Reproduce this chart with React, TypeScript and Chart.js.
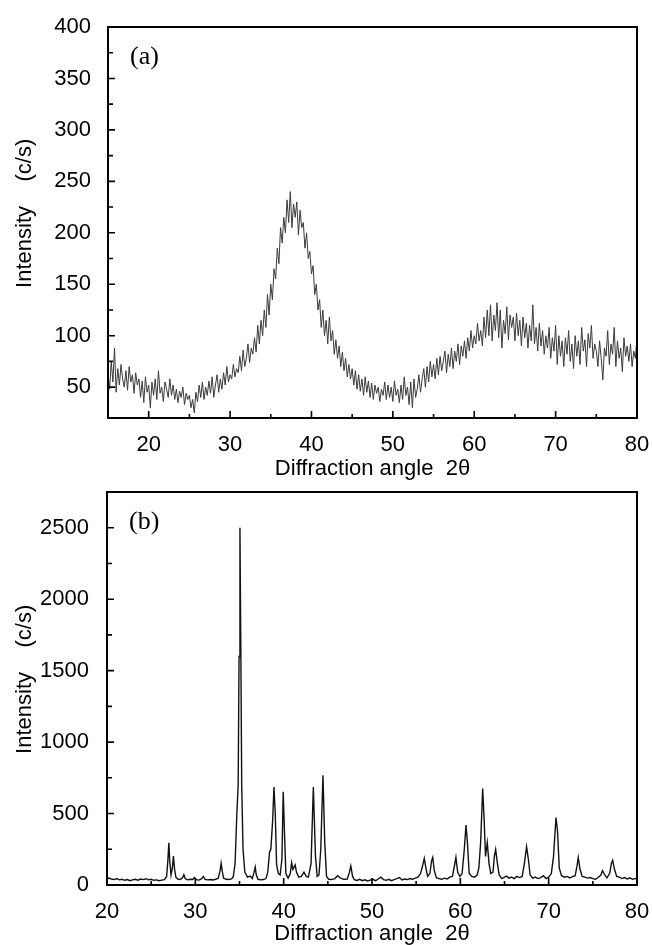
import React, { useEffect, useRef } from "react";
import { Chart, registerables } from "chart.js";

Chart.register(...registerables);

// ---------- Panel (a): amorphous pattern, uniform scan ----------
const topStartAngle = 15;
const topStepAngle = 0.2;
const topIntensity: number[] = [
  62, 48, 75, 55, 88, 45, 68, 52, 72, 58,
  50, 66, 47, 70, 55, 62, 44, 64, 52, 58,
  40, 56, 35, 60, 45, 52, 30, 55, 42, 58,
  38, 66, 44, 50, 36, 55, 48, 40, 58, 42,
  52, 38, 48, 35, 46, 40, 50, 33, 44, 38,
  42, 30, 38, 25, 45, 36, 52, 40, 55, 38,
  50, 42, 56, 44, 60, 40, 52, 62, 45, 58,
  48, 64, 52, 70, 55, 62, 58, 72, 60, 68,
  64, 80, 66, 86, 70, 78, 92, 74, 88, 82,
  98, 84, 110, 92, 115, 100, 125, 108, 140, 120,
  150, 135, 165, 155, 185, 170, 205, 190, 215, 200,
  232, 210, 240, 205, 228, 215, 230, 198, 222, 205,
  210, 185, 200, 175, 182, 160, 168, 140, 150, 125,
  135, 108, 125, 100, 115, 92, 118, 95, 105, 82,
  96, 78, 90, 70, 84, 66, 78, 60, 72, 58,
  68, 52, 66, 48, 62, 46, 58, 42, 60, 45,
  56, 40, 54, 38, 52, 44, 50, 36, 48, 42,
  55, 38, 52, 40, 50, 36, 56, 42, 48, 35,
  52, 38, 60, 42, 50, 33, 55, 30, 58, 40,
  48, 62, 45, 58, 68, 50, 70, 55, 75, 60,
  72, 58, 78, 62, 80, 66, 75, 85, 64, 82,
  70, 88, 68, 85, 75, 92, 72, 90, 80, 95,
  78, 98, 85, 105, 88, 100, 92, 112, 95, 105,
  90, 118, 98, 125, 100, 130, 95, 120, 105, 132,
  98, 125, 88, 115, 102, 128, 96, 120, 108, 118,
  95, 122, 100, 115, 90, 118, 98, 112, 88, 110,
  95, 130, 92, 108, 85, 112, 90, 105, 82, 100,
  88, 108, 78, 98, 85, 110, 72, 100, 80, 95,
  70, 98, 82, 105, 75, 92, 68, 100, 80, 95,
  72, 108, 85, 96, 70, 102, 88, 110, 78, 92,
  85, 70, 95, 78, 57, 88, 80, 105, 72, 92,
  82, 108, 70, 95, 78, 88, 65, 98, 80, 90,
  75, 92, 70, 85, 78, 99,
];
const topXMajor = [20, 30, 40, 50, 60, 70, 80];
const topXMinor = [25, 35, 45, 55, 65, 75];
const topYMajor = [50, 100, 150, 200, 250, 300, 350, 400];
const topYMinor = [75, 125, 175, 225, 275, 325, 375];

// ---------- Panel (b): crystalline pattern, [angle, intensity] ----------
const bottomScan: [number, number][] = [
  [20.0, 40], [20.2, 48], [20.5, 42], [20.8, 38], [21.1, 45], [21.4, 36], [21.7, 40], [22.0, 33],
  [22.3, 38], [22.6, 30], [22.9, 36], [23.2, 40], [23.5, 34], [23.8, 42], [24.1, 38], [24.4, 44],
  [24.7, 36], [25.0, 40], [25.3, 33], [25.6, 36], [25.9, 30], [26.2, 34], [26.5, 38],
  [26.75, 60], [26.9, 180], [27.0, 295], [27.1, 170], [27.25, 70], [27.4, 120], [27.52, 202],
  [27.65, 110], [27.8, 55], [28.0, 42], [28.3, 38], [28.55, 50], [28.7, 72], [28.85, 45],
  [29.1, 36], [29.4, 40], [29.7, 38], [29.9, 52], [30.1, 38], [30.4, 34], [30.7, 42], [30.9, 60],
  [31.1, 40], [31.4, 36], [31.7, 38], [32.0, 35], [32.3, 40], [32.6, 48], [32.8, 100],
  [32.92, 152], [33.05, 95], [33.2, 48], [33.5, 40], [33.8, 38], [34.1, 42], [34.3, 60],
  [34.5, 150], [34.7, 500], [34.85, 700], [34.95, 1600], [35.05, 2500], [35.15, 1650],
  [35.25, 700], [35.4, 250], [35.6, 90], [35.9, 55], [36.2, 62], [36.45, 45], [36.65, 90],
  [36.78, 126], [36.9, 70], [37.1, 40], [37.4, 36], [37.7, 38], [38.0, 45], [38.2, 90],
  [38.4, 230], [38.55, 250], [38.75, 450], [38.9, 686], [39.05, 500], [39.2, 140], [39.4, 80],
  [39.6, 70], [39.8, 180], [39.95, 652], [40.1, 350], [40.25, 80], [40.5, 48], [40.75, 80],
  [40.9, 156], [41.05, 110], [41.3, 140], [41.45, 90], [41.7, 55], [42.0, 60], [42.3, 90],
  [42.55, 60], [42.8, 55], [43.1, 150], [43.36, 686], [43.6, 200], [43.8, 60], [44.0, 70],
  [44.2, 250], [44.45, 768], [44.65, 300], [44.85, 60], [45.1, 40], [45.4, 38], [45.8, 45],
  [46.1, 65], [46.4, 50], [46.8, 40], [47.2, 42], [47.45, 90], [47.6, 133], [47.8, 60],
  [48.0, 38], [48.3, 32], [48.6, 40], [48.9, 30], [49.2, 36], [49.5, 28], [49.8, 34],
  [50.1, 40], [50.4, 30], [50.7, 42], [51.0, 55], [51.3, 38], [51.6, 33], [51.9, 40],
  [52.2, 30], [52.5, 38], [52.8, 44], [53.1, 52], [53.4, 36], [53.7, 42], [54.0, 38],
  [54.3, 45], [54.6, 40], [54.9, 48], [55.2, 55], [55.5, 80], [55.75, 140], [55.92, 186],
  [56.1, 120], [56.3, 60], [56.55, 80], [56.75, 170], [56.88, 193], [57.05, 100], [57.3, 50],
  [57.6, 45], [57.9, 40], [58.2, 48], [58.5, 42], [58.8, 55], [59.1, 60], [59.35, 140],
  [59.5, 193], [59.7, 90], [59.95, 60], [60.2, 80], [60.45, 250], [60.64, 419], [60.8, 300],
  [61.0, 80], [61.3, 60], [61.6, 55], [61.9, 70], [62.1, 120], [62.3, 300], [62.53, 675],
  [62.7, 450], [62.85, 200], [63.05, 296], [63.25, 150], [63.45, 80], [63.7, 90], [63.85, 200],
  [64.0, 249], [64.2, 150], [64.4, 70], [64.7, 45], [65.0, 55], [65.25, 62], [65.5, 48],
  [65.8, 55], [66.1, 45], [66.4, 60], [66.7, 52], [67.0, 60], [67.25, 150], [67.5, 268],
  [67.7, 180], [67.9, 70], [68.2, 48], [68.5, 55], [68.8, 45], [69.1, 52], [69.4, 65],
  [69.7, 45], [70.0, 55], [70.3, 80], [70.55, 200], [70.83, 472], [71.0, 380], [71.2, 120],
  [71.45, 65], [71.8, 55], [72.1, 60], [72.4, 50], [72.7, 58], [73.0, 65], [73.2, 130],
  [73.35, 193], [73.55, 110], [73.8, 60], [74.1, 55], [74.4, 48], [74.7, 52], [75.0, 45],
  [75.3, 40], [75.6, 52], [75.9, 70], [76.1, 100], [76.35, 70], [76.6, 50], [76.9, 80],
  [77.1, 150], [77.25, 172], [77.45, 110], [77.7, 60], [78.0, 55], [78.3, 45], [78.6, 52],
  [78.9, 42], [79.2, 50], [79.5, 40], [79.8, 45], [80.0, 48],
];
const bottomXMajor = [20, 30, 40, 50, 60, 70, 80];
const bottomXMinor = [25, 35, 45, 55, 65, 75];
const bottomYMajor = [0, 500, 1000, 1500, 2000, 2500];
const bottomYMinor = [250, 750, 1250, 1750, 2250];

const xTitle = "Diffraction angle  2θ";
const yTitle = "   Intensity    (c/s)";
const SANS = '"Liberation Sans", Arial, Helvetica, sans-serif';
const SERIF = '"Liberation Serif", "Times New Roman", serif';

const framePlugin = {
  id: "frame",
  afterDatasetsDraw(chart: any, _args: any, opts: any) {
    const { ctx, chartArea, scales } = chart;
    const { left, right, top, bottom } = chartArea;
    const x = scales.x;
    const y = scales.y;
    ctx.save();
    ctx.strokeStyle = "#000";
    ctx.lineWidth = 1.6;
    ctx.beginPath();
    for (const v of opts.xMajor) {
      const p = x.getPixelForValue(v);
      ctx.moveTo(p, bottom);
      ctx.lineTo(p, bottom - 7);
    }
    for (const v of opts.xMinor) {
      const p = x.getPixelForValue(v);
      ctx.moveTo(p, bottom);
      ctx.lineTo(p, bottom - 4);
    }
    for (const v of opts.yMajor) {
      const p = y.getPixelForValue(v);
      ctx.moveTo(left, p);
      ctx.lineTo(left + 7, p);
    }
    for (const v of opts.yMinor) {
      const p = y.getPixelForValue(v);
      ctx.moveTo(left, p);
      ctx.lineTo(left + 5, p);
    }
    ctx.stroke();
    ctx.lineWidth = 2;
    ctx.strokeRect(left, top, right - left, bottom - top);
    ctx.fillStyle = "#000";
    ctx.font = `26px ${SERIF}`;
    ctx.textAlign = "left";
    ctx.textBaseline = "middle";
    ctx.fillText(opts.label, left + 22, top + 30);
    ctx.restore();
  },
};

type PanelProps = {
  points: { x: number; y: number }[];
  width: number;
  height: number;
  padTop: number;
  yAxisWidth: number;
  xAxisHeight: number;
  xMin: number;
  xMax: number;
  yMin: number;
  yMax: number;
  xMajor: number[];
  xMinor: number[];
  yMajor: number[];
  yMinor: number[];
  label: string;
  lineColor: string;
  lineWidth: number;
  xTitlePadBottom: number;
  yTickPad: number;
  yTitlePadTop: number;
  top: number;
};

function Panel(p: PanelProps) {
  const ref = useRef<HTMLCanvasElement | null>(null);
  useEffect(() => {
    if (!ref.current) return;
    const chart = new Chart(ref.current, {
      type: "line",
      data: {
        datasets: [
          {
            data: p.points,
            borderColor: p.lineColor,
            borderWidth: p.lineWidth,
            pointRadius: 0,
            tension: 0,
            fill: false,
          },
        ],
      },
      options: {
        responsive: false,
        maintainAspectRatio: false,
        animation: false,
        events: [],
        layout: { padding: { top: p.padTop, right: 15, bottom: 0, left: 0 } },
        plugins: {
          legend: { display: false },
          tooltip: { enabled: false },
          frame: {
            xMajor: p.xMajor,
            xMinor: p.xMinor,
            yMajor: p.yMajor,
            yMinor: p.yMinor,
            label: p.label,
          },
        } as any,
        scales: {
          x: {
            type: "linear",
            min: p.xMin,
            max: p.xMax,
            grid: { display: false },
            border: { display: false },
            afterBuildTicks: (s: any) => {
              s.ticks = p.xMajor.map((v) => ({ value: v }));
            },
            afterFit: (s: any) => {
              s.height = p.xAxisHeight;
              s.paddingLeft = 0;
              s.paddingRight = 0;
            },
            ticks: {
              color: "#000",
              font: { family: SANS, size: 22 },
              padding: 6,
              maxRotation: 0,
              autoSkip: false,
              callback: (v: any) => String(v),
            },
            title: {
              display: true,
              text: xTitle,
              color: "#000",
              font: { family: SANS, size: 22, lineHeight: 1 },
              padding: { top: 0, bottom: p.xTitlePadBottom },
            },
          },
          y: {
            type: "linear",
            min: p.yMin,
            max: p.yMax,
            grid: { display: false },
            border: { display: false },
            afterBuildTicks: (s: any) => {
              s.ticks = p.yMajor.map((v) => ({ value: v }));
            },
            afterFit: (s: any) => {
              s.width = p.yAxisWidth;
              s.paddingTop = 0;
              s.paddingBottom = 0;
            },
            ticks: {
              color: "#000",
              font: { family: SANS, size: 22 },
              padding: p.yTickPad,
              autoSkip: false,
              callback: (v: any) => String(v),
            },
            title: {
              display: true,
              text: yTitle,
              color: "#000",
              font: { family: SANS, size: 22, lineHeight: 1 },
              padding: { top: p.yTitlePadTop, bottom: 0 },
            },
          },
        },
      },
      plugins: [framePlugin as any],
    });
    return () => chart.destroy();
  }, []);
  return (
    <canvas
      ref={ref}
      width={p.width}
      height={p.height}
      style={{ position: "absolute", left: 0, top: p.top, display: "block" }}
    />
  );
}

export default function App() {
  const topPoints = topIntensity.map((v, i) => ({
    x: +(topStartAngle + i * topStepAngle).toFixed(2),
    y: v,
  }));
  const bottomPoints = bottomScan.map(([x, y]) => ({ x, y }));
  return (
    <div
      style={{
        position: "absolute",
        left: 0,
        top: 0,
        width: 652,
        height: 945,
        background: "#fff",
        overflow: "hidden",
      }}
    >
      <Panel
        points={topPoints}
        width={652}
        height={480}
        top={0}
        padTop={27}
        yAxisWidth={108}
        xAxisHeight={62}
        xMin={15}
        xMax={80}
        yMin={20}
        yMax={400}
        xMajor={topXMajor}
        xMinor={topXMinor}
        yMajor={topYMajor}
        yMinor={topYMinor}
        label="(a)"
        lineColor="#3a3a3a"
        lineWidth={1}
        xTitlePadBottom={0}
        yTickPad={9}
        yTitlePadTop={14}
      />
      <Panel
        points={bottomPoints}
        width={652}
        height={465}
        top={480}
        padTop={12}
        yAxisWidth={107}
        xAxisHeight={60}
        xMin={20}
        xMax={80}
        yMin={0}
        yMax={2750}
        xMajor={bottomXMajor}
        xMinor={bottomXMinor}
        yMajor={bottomYMajor}
        yMinor={bottomYMinor}
        label="(b)"
        lineColor="#111"
        lineWidth={1.4}
        xTitlePadBottom={0}
        yTickPad={10}
        yTitlePadTop={14}
      />
    </div>
  );
}
